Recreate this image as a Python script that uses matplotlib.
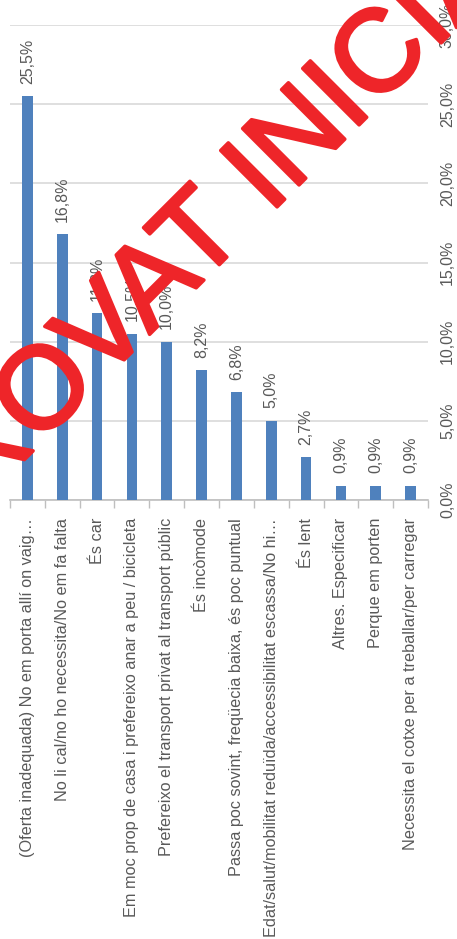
import matplotlib.pyplot as plt
import matplotlib.patheffects as pe
from matplotlib.ticker import FixedLocator, FuncFormatter

plt.rcParams['font.family'] = ['Liberation Sans', 'DejaVu Sans']

motius = [
    '(Oferta inadequada) No em porta allí on vaig…',
    'No li cal/no ho necessita/No em fa falta',
    'És car',
    'Em moc prop de casa i prefereixo anar a peu / bicicleta',
    'Prefereixo el transport privat al transport públic',
    'És incòmode',
    'Passa poc sovint, freqüecia baixa, és poc puntual',
    'Edat/salut/mobilitat reduïda/accessibilitat escassa/No hi…',
    'És lent',
    'Altres. Especificar',
    'Perque em porten',
    'Necessita el cotxe per a treballar/per carregar',
]
percentatges = [25.5, 16.8, 11.8, 10.5, 10.0, 8.2, 6.8, 5.0, 2.7, 0.9, 0.9, 0.9]
marques_y = [0, 5, 10, 15, 20, 25, 30]

W, H = 457, 939
text_gris = '#595959'
blau = '#4f81bd'
vermell = '#ee2529'

fig = plt.figure(figsize=(W / 100, H / 100), dpi=100)
ax = fig.add_axes([10 / W, 1 - 500 / H, 418 / W, 475 / H])

x = range(len(motius))
ax.bar(x, percentatges, width=0.31, color=blau, zorder=3)

for xi, v in zip(x, percentatges):
    ax.annotate(f'{v:.1f}%'.replace('.', ','), (xi, v), xytext=(0, 9),
                textcoords='offset points', rotation=90, ha='center', va='bottom',
                fontsize=11.5, color=text_gris)

ax.set_xlim(-0.5, len(motius) - 0.5)
ax.set_ylim(0, 30)

# eix de categories: etiquetes girades, marques entre categories
ax.set_xticks(list(x))
ax.set_xticklabels(motius, rotation=90, ha='center', va='top',
                   fontsize=11.7, color=text_gris)
ax.tick_params(axis='x', which='major', length=0, pad=13)
ax.xaxis.set_minor_locator(FixedLocator([i - 0.5 for i in range(len(motius) + 1)]))
ax.tick_params(axis='x', which='minor', length=6, color='#bfbfbf', width=1)

# eix de valors a la dreta
ax.yaxis.tick_right()
ax.set_yticks(marques_y)
ax.yaxis.set_major_formatter(FuncFormatter(lambda v, p: f'{v:.1f}%'.replace('.', ',')))
ax.tick_params(axis='y', length=0, pad=14, labelsize=11.5, labelcolor=text_gris)
for lab in ax.get_yticklabels():
    lab.set_rotation(90)
    lab.set_va('center')
    lab.set_ha('center')

ax.grid(axis='y', color='#d9d9d9', linewidth=1.2, zorder=0)
for s in ['top', 'left', 'right']:
    ax.spines[s].set_visible(False)
ax.spines['bottom'].set_color('#bfbfbf')
ax.spines['bottom'].set_linewidth(1.2)

# segell vermell en diagonal, traç una mica més gruixut
px, py = 37 / W, 1 - 447 / H
kw = dict(rotation=45, rotation_mode='anchor', va='baseline', fontsize=83.5,
          color=vermell, zorder=10,
          path_effects=[pe.withStroke(linewidth=2.5, foreground=vermell)])
fig.text(px, py, 'APR', ha='right', **kw)
fig.text(px, py, 'OVAT INICIALMENT', ha='left', **kw)

fig.savefig('out.png', dpi=100)
